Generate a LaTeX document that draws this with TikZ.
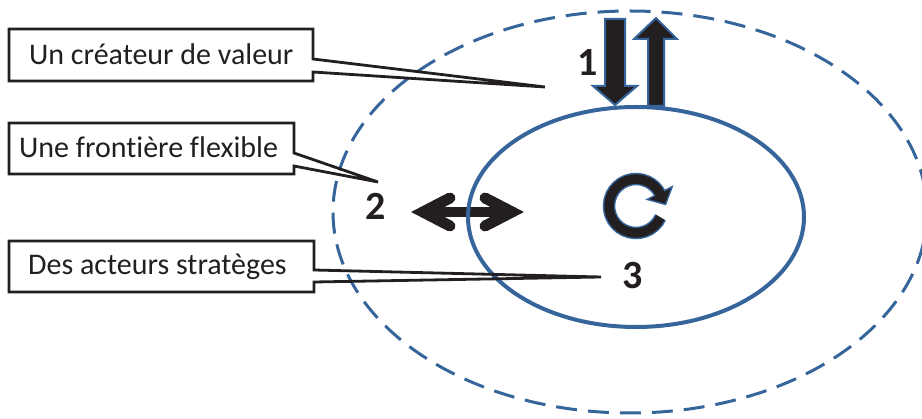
\documentclass[tikz,border=0pt]{standalone}
\usepackage{fontspec}
\setmainfont[Ligatures={NoCommon}]{Carlito}
\usetikzlibrary{calc}
\definecolor{eblue}{HTML}{35659A}
\definecolor{eblack}{HTML}{231F20}
\begin{document}
\begin{tikzpicture}[x=1pt,y=-1pt,
  callout/.style={draw=eblack, line width=2.8pt, line join=miter},
  lbl/.style={anchor=base west, inner sep=0pt, font=\fontsize{30}{36}\selectfont, text=eblack},
  num/.style={inner sep=0pt, font=\fontsize{40}{48}\selectfont\bfseries, text=eblack},
  bigarrow/.style={fill=eblack, draw=eblue, line width=2pt, line join=miter},
  dbl/.style={draw=eblack, line width=11pt, line cap=round, line join=miter}]
\useasboundingbox (0,0) rectangle (922,419);
% outer dashed ellipse
\draw[eblue, line width=3pt, dash pattern=on 21pt off 11pt] (630,212) ellipse [x radius=297, y radius=201];
% double arrow
\coordinate (dl) at (423,212);
\coordinate (dr) at (512,212);
\draw[eblack, line width=10pt] (dl) -- (dr);
\draw[dbl] (450,198) -- (dl) -- (450,226);
\draw[dbl] (485,198) -- (dr) -- (485,226);
% inner ellipse
\draw[eblue, line width=4pt] (636,217) ellipse [x radius=168, y radius=110];
% top arrows
\draw[bigarrow] (605,19) -- (625,19) -- (625,86) -- (637,86) -- (615,105) -- (593,86) -- (605,86) -- cycle;
\draw[bigarrow] (648,106) -- (664,106) -- (664,39) -- (677,39) -- (656,18) -- (634,39) -- (648,39) -- cycle;
% circular arrow
\coordinate (rc) at (636,206);
\draw[eblue, line width=12.5pt] ($(rc)+(25:27)$) arc[start angle=25, end angle=333, radius=27];
\draw[eblue, line width=3pt, line join=miter, fill=eblue] ($(rc)+(333:39)$) -- ($(rc)+(333:27)+(63:11)$) -- ($(rc)+(333:15)$) -- cycle;
\draw[eblack, line width=9.5pt] ($(rc)+(25:27)$) arc[start angle=25, end angle=334, radius=27];
\fill[eblack] ($(rc)+(333:39)$) -- ($(rc)+(333:27)+(63:11)$) -- ($(rc)+(333:15)$) -- cycle;
% callouts
\node[lbl] (t1) at (29,65) {Un créateur de valeur};
\coordinate (p1) at (545,87);
\draw[callout] (9,29) -- (313,29) -- (313,59) -- (p1) -- (313,72) -- (313,81) -- (9,81) -- cycle;
\node[lbl] (t2) at (19,158) {Une frontière flexible};
\coordinate (p2) at (378,182);
\draw[callout] (9,123) -- (294,123) -- (294,153) -- (p2) -- (294,166) -- (294,174) -- (9,174) -- cycle;
\node[lbl] (t3) at (28,275) {Des acteurs stratèges};
\coordinate (p3) at (601,277);
\draw[callout] (9,241) -- (314,241) -- (314,270) -- (p3) -- (314,282) -- (314,292) -- (9,292) -- cycle;
% numbers
\node[num] (n1) at (588,63) {1};
\node[num] (n2) at (376,206) {2};
\node[num] (n3) at (633,276) {3};
\end{tikzpicture}
\end{document}
